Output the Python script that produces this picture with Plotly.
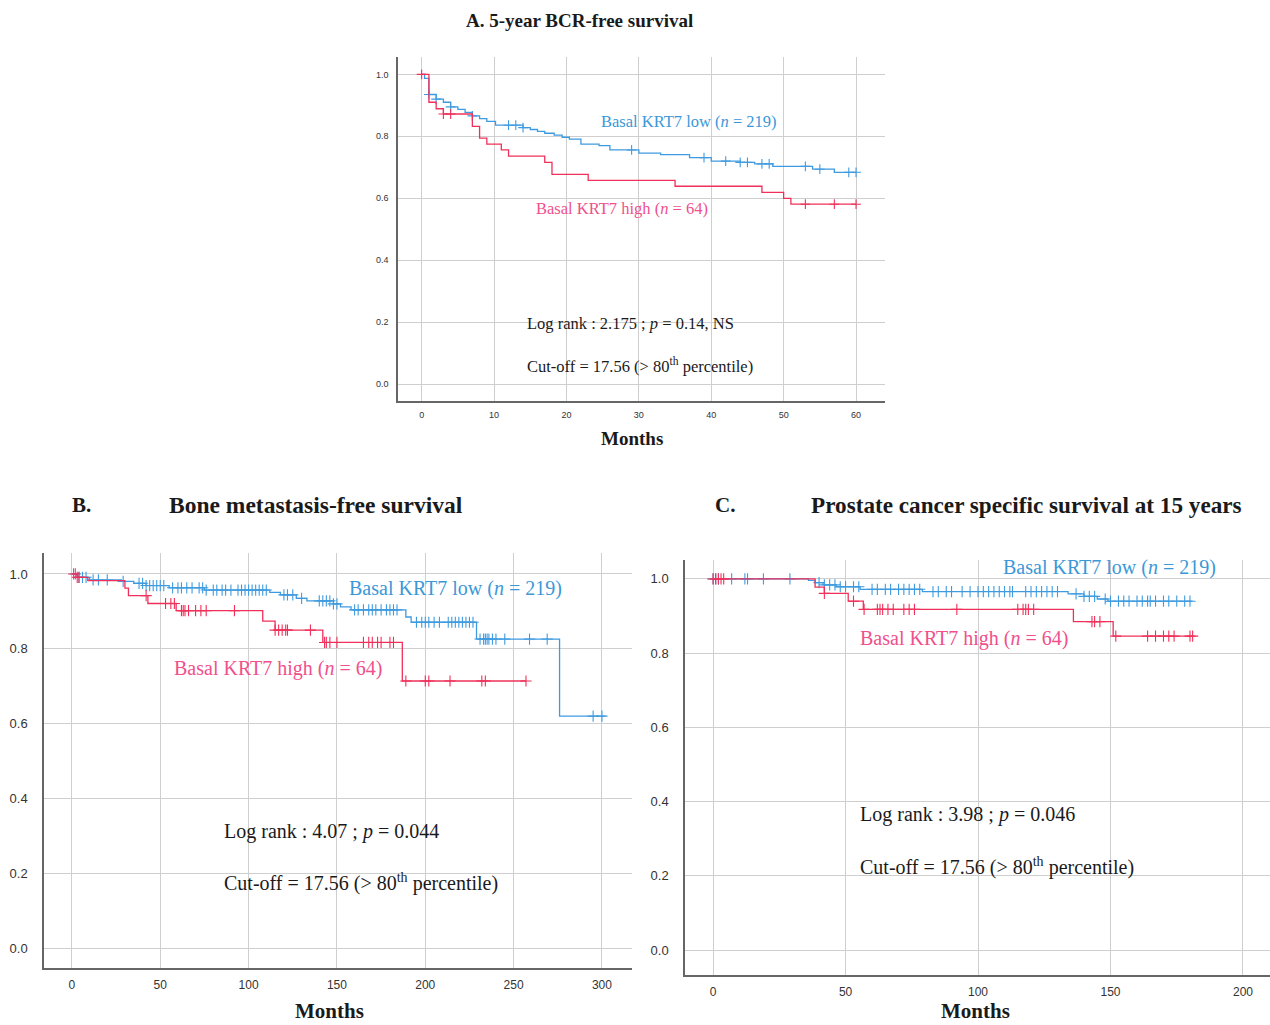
import numpy as np
import plotly.graph_objects as go

# ---------------- DATA ----------------
# Panel A: 5-year BCR-free survival
a_low_t = [0, 0.4, 1, 2, 3, 4, 5, 6, 7, 8, 9, 10.2, 14, 15, 16, 17, 18.3, 19.4, 20.4, 22, 24.5, 26, 30, 33, 37, 40, 44, 46, 48.5, 54, 57, 60]
a_low_s = [1.0, 0.987, 0.935, 0.92, 0.91, 0.895, 0.887, 0.877, 0.866, 0.857, 0.848, 0.836, 0.828, 0.822, 0.816, 0.81, 0.804, 0.797, 0.791, 0.775, 0.77, 0.756, 0.746, 0.741, 0.731, 0.72, 0.716, 0.711, 0.703, 0.694, 0.684, 0.684]
a_low_c = [1, 2, 4, 7, 12, 13, 14, 29, 39, 42, 44, 45, 47, 48, 53, 55, 59, 60]
a_high_t = [0, 1, 2, 3, 7, 8, 9, 11, 12, 17, 18, 23, 35, 47, 50, 51, 60]
a_high_s = [1.0, 0.91, 0.889, 0.872, 0.832, 0.794, 0.775, 0.756, 0.736, 0.716, 0.677, 0.658, 0.639, 0.619, 0.6, 0.581, 0.581]
a_high_c = [0, 3, 4, 53, 57, 60]

# Panel B: Bone metastasis-free survival
b_low_t = [0, 3, 10, 28, 35, 42, 55, 75, 112, 118, 127, 133, 148, 152, 158, 189, 192, 229, 276, 302]
b_low_s = [1.0, 0.991, 0.984, 0.98, 0.975, 0.969, 0.963, 0.957, 0.951, 0.944, 0.935, 0.928, 0.92, 0.912, 0.904, 0.885, 0.871, 0.826, 0.62, 0.62]
b_low_c = [2, 4, 6, 8, 12, 15, 20, 29, 38, 40, 42, 44, 46, 48, 50, 52, 57, 60, 62, 65, 68, 72, 74, 76, 80, 82, 85, 87, 90,
           94, 96, 98, 100, 102, 104, 106, 108, 110, 120, 122, 125, 130, 140, 142, 144, 146, 148, 150, 160, 162, 165, 168,
           170, 172, 175, 178, 180, 182, 184, 195, 198, 200, 202, 205, 208, 213, 215, 217, 219, 221, 223, 225, 227,
           231, 233, 234, 235, 236, 238, 240, 245, 259, 269, 295, 300]
b_high_t = [0, 3, 9, 30, 32, 43, 59, 108, 115, 142, 187, 257]
b_high_s = [1.0, 0.991, 0.982, 0.962, 0.942, 0.921, 0.902, 0.874, 0.85, 0.817, 0.714, 0.714]
b_high_c = [1, 3, 4, 42, 53, 56, 58, 62, 63, 64, 66, 70, 73, 76, 92, 115, 117, 119, 121, 122, 135,
            143, 144, 146, 150, 165, 168, 170, 173, 175, 180, 182, 189, 200, 202, 214, 232, 234, 257]

# Panel C: Prostate cancer specific survival at 15 years
c_low_t = [0, 36, 38.5, 41.5, 46.5, 55.5, 79, 134, 140, 145, 149, 181]
c_low_s = [1.0, 0.996, 0.99, 0.984, 0.979, 0.972, 0.966, 0.96, 0.953, 0.946, 0.94, 0.94]
c_low_c = [0, 1, 2, 7, 12, 13, 19, 29, 40, 42, 44, 46, 48, 50, 53, 55, 60, 62, 65, 67, 70, 72, 74, 76, 78,
           83, 85, 88, 90, 94, 97, 100, 102, 104, 106, 108, 110, 112, 113, 118, 120, 122, 124, 126, 128, 130,
           137, 140, 142, 144, 148, 150, 153, 155, 157, 160, 162, 164, 165, 167, 170, 172, 175, 178, 180]
c_high_t = [0, 38.5, 42, 51, 56.7, 136, 151, 181]
c_high_s = [1.0, 0.978, 0.961, 0.94, 0.918, 0.885, 0.846, 0.846]
c_high_c = [0, 1, 2, 3, 4, 42, 53, 57, 62, 63, 64, 66, 68, 72, 74, 76, 92, 115, 117, 118, 119, 121,
            143, 144, 146, 152, 164, 167, 170, 172, 174, 180, 181]

y_ticks = [0.0, 0.2, 0.4, 0.6, 0.8, 1.0]
y_ticktext = ["0.0", "0.2", "0.4", "0.6", "0.8", "1.0"]

# ---------------- STYLE ----------------
BLUE = "#3f9be0"
RED = "#f0305a"
BLUE_TXT = "#3b98d8"
PINK_TXT = "#f0508c"
GRID = "#cfcfcf"
AXIS = "#666666"
SERIF = "Liberation Serif"
SANS = "Liberation Sans"

fig = go.Figure()


def censor_y(times, surv, cens):
    t = np.asarray(times, float)
    s = np.asarray(surv, float)
    idx = np.searchsorted(t, np.asarray(cens, float), side="right") - 1
    idx = np.clip(idx, 0, len(s) - 1)
    return s[idx]


def add_km(times, surv, cens, color, xa, ya, msize):
    fig.add_trace(go.Scatter(x=times, y=surv, mode="lines", line=dict(color=color, width=1.3, shape="hv"),
                             xaxis=xa, yaxis=ya, showlegend=False, hoverinfo="skip"))
    fig.add_trace(go.Scatter(x=cens, y=censor_y(times, surv, cens), mode="markers",
                             marker=dict(symbol="cross-thin", size=msize, line=dict(color=color, width=1.1)),
                             xaxis=xa, yaxis=ya, showlegend=False, hoverinfo="skip"))


add_km(a_low_t, a_low_s, a_low_c, BLUE, "x", "y", 7)
add_km(a_high_t, a_high_s, a_high_c, RED, "x", "y", 7)
add_km(b_low_t, b_low_s, b_low_c, BLUE, "x2", "y2", 8)
add_km(b_high_t, b_high_s, b_high_c, RED, "x2", "y2", 8)
add_km(c_low_t, c_low_s, c_low_c, BLUE, "x3", "y3", 8)
add_km(c_high_t, c_high_s, c_high_c, RED, "x3", "y3", 8)

W, H = 1270, 1025


def px(x):
    return x / W


def py(y):
    return 1 - y / H


def xaxis(dom, rng, tickvals, fs, standoff):
    return dict(domain=dom, range=rng, tickvals=tickvals, showgrid=True, gridcolor=GRID, gridwidth=1.2,
                zeroline=False, showline=True, linecolor=AXIS, linewidth=1.5, ticks="",
                tickfont=dict(family=SANS, size=fs, color="#333"), ticklabelstandoff=standoff, fixedrange=True)


def yaxis(dom, rng, fs, standoff):
    return dict(domain=dom, range=rng, tickvals=y_ticks, ticktext=y_ticktext, showgrid=True, gridcolor=GRID,
                gridwidth=1.2, zeroline=False, showline=True, linecolor=AXIS, linewidth=1.5, ticks="",
                tickfont=dict(family=SANS, size=fs, color="#333"), ticklabelstandoff=standoff, fixedrange=True)


fig.update_layout(
    width=W, height=H, margin=dict(l=0, r=0, t=0, b=0), paper_bgcolor="white", plot_bgcolor="white",
    xaxis=xaxis([px(398), px(885)], [-3.27, 64.0], [0, 10, 20, 30, 40, 50, 60], 9, 4),
    yaxis=yaxis([py(401), py(57)], [-0.054, 1.056], 9, 6),
    xaxis2=dict(xaxis([px(44), px(632)], [-15.8, 317], [0, 50, 100, 150, 200, 250, 300], 12, 5), anchor="y2"),
    yaxis2=dict(yaxis([py(968), py(553)], [-0.053, 1.056], 13, 12), anchor="x2"),
    xaxis3=dict(xaxis([px(685), 1.0], [-10.6, 210.2], [0, 50, 100, 150, 200], 12, 5), anchor="y3"),
    yaxis3=dict(yaxis([py(975), py(560)], [-0.067, 1.051], 13, 12), anchor="x3"),
)
fig.layout.xaxis.anchor = "y"
fig.layout.yaxis.anchor = "x"


def note(x, y, text, size, color="#1a1a1a", bold=False, anchor="left"):
    if bold:
        text = "<b>" + text + "</b>"
    fig.add_annotation(x=px(x), y=py(y), xref="paper", yref="paper", text=text, showarrow=False,
                       xanchor=anchor, yanchor="middle", font=dict(family=SERIF, size=size, color=color))


# Titles
note(579, 20, "A. 5-year BCR-free survival", 19, bold=True, anchor="center")
note(70, 505, "B.", 21, bold=True)
note(316, 505, "Bone metastasis-free survival", 23.5, bold=True, anchor="center")
note(713, 505, "C.", 21, bold=True)
note(1026, 505, "Prostate cancer specific survival at 15 years", 23.2, bold=True, anchor="center")
note(632, 439, "Months", 19, bold=True, anchor="center")
note(329, 1011, "Months", 21, bold=True, anchor="center")
note(975, 1011, "Months", 21, bold=True, anchor="center")

# Panel A labels
note(599, 121, "Basal KRT7 low (<i>n</i> = 219)", 16.5, BLUE_TXT)
note(534, 209, "Basal KRT7 high (<i>n</i> = 64)", 16.5, PINK_TXT)
note(525, 323, "Log rank : 2.175 ; <i>p</i> = 0.14, NS", 16.5)
note(525, 365, "Cut-off = 17.56 (> 80<sup>th</sup> percentile)", 16.5)

# Panel B labels
note(347, 588, "Basal KRT7 low (<i>n</i> = 219)", 20, BLUE_TXT)
note(172, 668, "Basal KRT7 high (<i>n</i> = 64)", 20, PINK_TXT)
note(222, 831, "Log rank : 4.07 ; <i>p</i> = 0.044", 20)
note(222, 882, "Cut-off = 17.56 (> 80<sup>th</sup> percentile)", 20)

# Panel C labels
note(1001, 567, "Basal KRT7 low (<i>n</i> = 219)", 20, BLUE_TXT)
note(858, 638, "Basal KRT7 high (<i>n</i> = 64)", 20, PINK_TXT)
note(858, 814, "Log rank : 3.98 ; <i>p</i> = 0.046", 20)
note(858, 866, "Cut-off = 17.56 (> 80<sup>th</sup> percentile)", 20)

fig.write_html("out.html", config={"displayModeBar": False},
               post_script="document.body.style.margin='0';document.body.style.overflow='hidden';")
